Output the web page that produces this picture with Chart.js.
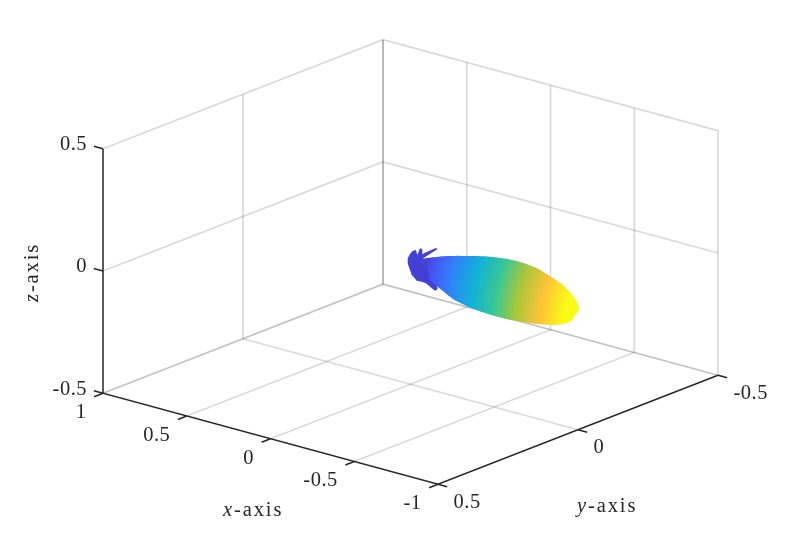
<!DOCTYPE html>
<html><head><meta charset="utf-8">
<style>html,body{margin:0;padding:0;background:#fff}canvas{display:block}</style>
<script src="https://cdn.jsdelivr.net/npm/chart.js@4/dist/chart.umd.min.js"></script>
</head><body>
<canvas id="c" width="793" height="544"></canvas>
<script>
const xTicks = [1, 0.5, 0, -0.5, -1];
const yTicks = [0.5, 0, -0.5];
const zTicks = [-0.5, 0, 0.5];
const xTickLabels = ['1', '0.5', '0', '-0.5', '-1'];
const yTickLabels = ['0.5', '0', '-0.5'];
const zTickLabels = ['-0.5', '0', '0.5'];

// main lobe: distance along -x, and half height above and below the lobe axis
const lobeT = [0,.02,.04,.06,.08,.10,.12,.14,.16,.18,.20,.22,.24,.26,.28,.30,.32,.34,.36,.38,.40,.42,.44,.46,.48,.50,.52,.54,.56,.58,.60,.62,.64,.66,.68,.70,.72,.74,.76,.78,.80,.82,.84,.86,.88,.90,.92,.94,.96,.98,1];
const lobeUp = [.0018,.0080,.0145,.0217,.0275,.0325,.0376,.0427,.0474,.0517,.0557,.0596,.0633,.0669,.0701,.0734,.0766,.0799,.0831,.0860,.0886,.0911,.0936,.0958,.0976,.0994,.1012,.1023,.1030,.1038,.1041,.1041,.1038,.1027,.1012,.0994,.0976,.0951,.0915,.0875,.0835,.0795,.0752,.0705,.0654,.0593,.0517,.0434,.0336,.0217,.0072];
const lobeDown = [.0018,.0072,.0130,.0188,.0253,.0325,.0398,.0470,.0542,.0586,.0643,.0701,.0759,.0813,.0868,.0911,.0940,.0969,.0994,.1016,.1030,.1041,.1052,.1063,.1070,.1077,.1081,.1085,.1085,.1085,.1085,.1081,.1074,.1063,.1052,.1041,.1027,.1009,.0991,.0972,.0954,.0933,.0907,.0880,.0850,.0815,.0770,.0715,.0645,.0530,.0220];

// back lobes: outline at x = 0, and the darker patch inside them
const backY = [-.0457,-.0971,-.0911,-.0518,-.0436,-.0421,-.0339,-.0243,-.0196,-.0079,.0018,.0100,.0100,.0043,-.0007,-.0043,-.0136,-.0221,-.0400,-.0554,-.0721,-.0875,-.0971,-.0936,-.0793,-.0457];
const backZ = [-.0052,.0099,.0166,.0150,.0133,.0344,.0409,.0178,.0403,.0427,.0335,.0196,-.0009,-.0238,-.0400,-.0551,-.0703,-.0863,-.0984,-.1118,-.1356,-.1564,-.1550,-.1358,-.1118,-.0531];
const innerY = [-.0100,-.0339,-.0579,-.0671,-.0518,-.0279,-.0125];
const innerZ = [-.0167,-.0204,-.0516,-.0831,-.0938,-.0791,-.0452];
const backLevel = 0.085;
const innerLevel = 0.077;

// parula colour map stops
const mapR = [.2422,.2810,.1786,.0689,.2161,.6720,.9970,.9769];
const mapG = [.1504,.3228,.5289,.6948,.7843,.7793,.7659,.9839];
const mapB = [.6603,.9579,.9682,.8394,.5923,.2227,.2199,.0805];

const project = (x, y, z) => ({
  x: 410.5 - 167.5 * x - 280 * y,
  y: 262 - 45.5 * x + 109 * y - 244.5 * z
});
function parula(v) {
  const p = Math.min(Math.max(v, 0), 1) * (mapR.length - 1);
  const i = Math.min(Math.floor(p), mapR.length - 2), f = p - i;
  const c = a => Math.round(255 * (a[i] + (a[i + 1] - a[i]) * f));
  return `rgb(${c(mapR)},${c(mapG)},${c(mapB)})`;
}
const seg = (pts, color, width) => ({
  data: pts.map(p => project(p[0], p[1], p[2])), showLine: true, fill: false,
  borderColor: color, borderWidth: width, pointRadius: 0, tension: 0
});
const poly = (data, color) => ({
  data, showLine: true, fill: 'shape', backgroundColor: color,
  borderColor: color, borderWidth: 0, pointRadius: 0, tension: 0
});

const behind = [];
const GRID = 'rgba(0,0,0,0.15)', EDGE = 'rgba(0,0,0,0.24)', AXIS = '#262626';
const xMax = xTicks[0], xMin = xTicks[4], yMax = yTicks[0], yMin = yTicks[2], zMin = zTicks[0], zMax = zTicks[2];
xTicks.slice(1, 4).forEach(x => {
  behind.push(seg([[x, yMax, zMin], [x, yMin, zMin], [x, yMin, zMax]], GRID, 1.7));
});
behind.push(seg([[xMax, yTicks[1], zMin], [xMax, yTicks[1], zMax]], GRID, 1.7));
behind.push(seg([[xMin, yTicks[1], zMin], [xMax, yTicks[1], zMin]], GRID, 1.7));
behind.push(seg([[xMax, yMax, zTicks[1]], [xMax, yMin, zTicks[1]], [xMin, yMin, zTicks[1]]], GRID, 1.7));
behind.push(seg([[xMax, yMax, zMax], [xMax, yMin, zMax], [xMin, yMin, zMax], [xMin, yMin, zMin]], GRID, 1.7));
behind.push(seg([[xMax, yMax, zMin], [xMax, yMin, zMin], [xMin, yMin, zMin]], EDGE, 1.8));
behind.push(seg([[xMax, yMin, zMin], [xMax, yMin, zMax]], 'rgba(0,0,0,0.28)', 2));
const TX = 0.0318, TL = 0.055;
behind.push(seg([[xMax, yMax, zMax], [xMax, yMax, zMin], [xMin, yMax, zMin], [xMin, yMin, zMin]], AXIS, 1.5));
xTicks.forEach(x => behind.push(seg([[x, yMax, zMin], [x, yMax + TX, zMin]], AXIS, 1.5)));
yTicks.forEach(y => behind.push(seg([[xMin, y, zMin], [xMin - TL, y, zMin]], AXIS, 1.5)));
zTicks.forEach(z => behind.push(seg([[xMax, yMax, z], [xMax + TL, yMax, z]], AXIS, 1.5)));

behind.push(poly(backY.map((y, i) => project(0, y, backZ[i])), parula(backLevel)));
// main lobe as stacked flattened sections, far to near
const ARC = 16, TILT = -0.2243, DEPTH = 0.12, COLOR_GAIN = 1.07;
function arc(i, a0) {
  const t = lobeT[i], up = lobeUp[i], down = lobeDown[i], pts = [];
  for (let k = 0; k <= ARC; k++) {
    const a = a0 + Math.PI * k / ARC, s = Math.sin(a), c = Math.cos(a);
    const z = (s >= 0 ? up : down) * s;
    pts.push(project(-t - DEPTH * (up + down) * c, TILT * z, z));
  }
  return pts;
}
lobeT.forEach((t, i) => {
  const next = Math.min(i + 1, lobeT.length - 1);
  const pts = arc(i, Math.PI / 2).concat(arc(next, 3 * Math.PI / 2));
  behind.push(poly(pts, parula(Math.max(t * COLOR_GAIN, backLevel))));
});
behind.push(poly(innerY.map((y, i) => project(0, y, innerZ[i])), parula(innerLevel)));
// Chart.js paints the first dataset last
const datasets = behind.reverse();

const FONT = '"Liberation Serif", serif', SIZE = 20.5, INK = '#262626';
const labelsPlugin = {
  id: 'labels3d',
  afterDatasetsDraw(chart) {
    const { ctx, scales } = chart;
    const put = (txt, p, dx, dy, align) => {
      ctx.textAlign = align;
      ctx.fillText(txt, scales.x.getPixelForValue(p.x) + dx, scales.y.getPixelForValue(p.y) + dy);
    };
    ctx.save();
    ctx.fillStyle = INK;
    ctx.textBaseline = 'middle';
    ctx.letterSpacing = '0.5px';
    ctx.font = `${SIZE}px ${FONT}`;
    xTicks.forEach((x, i) => put(xTickLabels[i], project(x, yMax, zMin), -16.5, 19.5, 'right'));
    yTicks.forEach((y, i) => put(yTickLabels[i], project(xMin, y, zMin), 15.5, 18, 'left'));
    zTicks.forEach((z, i) => put(zTickLabels[i], project(xMax, yMax, z), -16, -4, 'right'));
    ctx.letterSpacing = '1.9px';
    ctx.textAlign = 'left';
    const named = (sym, rest, px, py, rot) => {
      ctx.save();
      ctx.translate(px, py);
      ctx.rotate(rot);
      ctx.font = `italic ${SIZE}px ${FONT}`;
      ctx.fillText(sym, 0, 0);
      const w = ctx.measureText(sym).width;
      ctx.font = `${SIZE}px ${FONT}`;
      ctx.fillText(rest, w, 0);
      ctx.restore();
    };
    named('x', '-axis', 223, 511, 0);
    named('y', '-axis', 577, 507, 0);
    named('z', '-axis', 33, 302, -Math.PI / 2);
    ctx.restore();
  }
};

new Chart(document.getElementById('c'), {
  type: 'scatter',
  data: { datasets },
  plugins: [labelsPlugin],
  options: {
    responsive: false, animation: false,
    layout: { padding: 0 },
    plugins: { legend: { display: false }, tooltip: { enabled: false } },
    events: [],
    scales: {
      x: { type: 'linear', display: false, min: 0, max: 793 },
      y: { type: 'linear', display: false, min: 0, max: 544, reverse: true }
    }
  }
});
</script>
</body></html>
